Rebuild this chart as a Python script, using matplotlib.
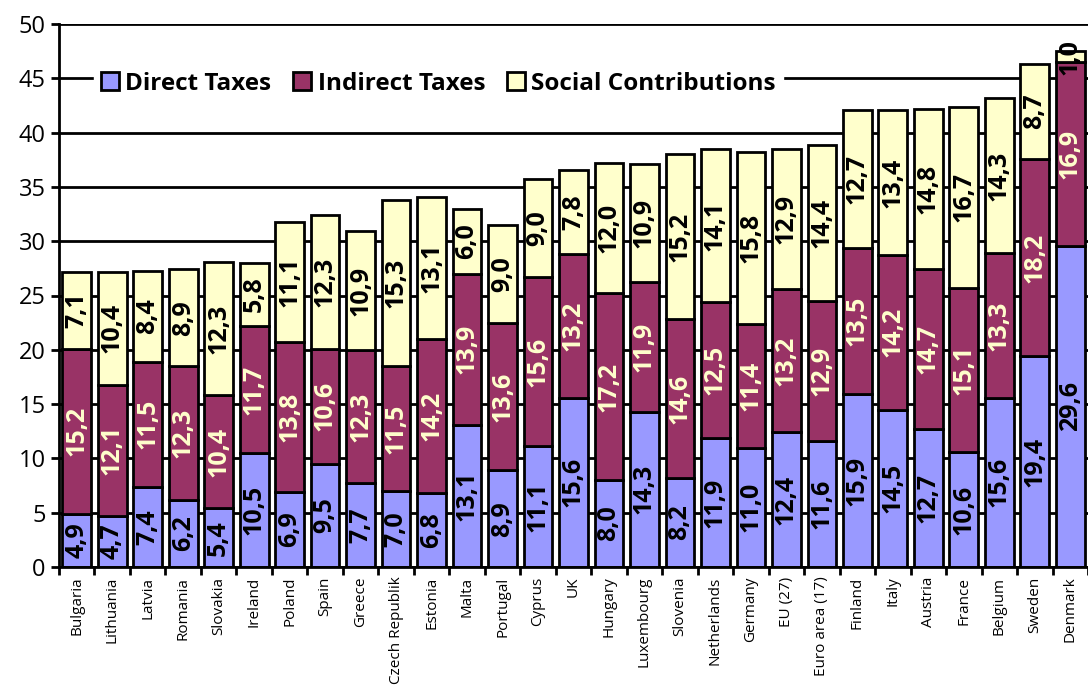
import numpy as np
import matplotlib
matplotlib.use("Agg")
import matplotlib.pyplot as plt

countries = ["Bulgaria", "Lithuania", "Latvia", "Romania", "Slovakia", "Ireland",
             "Poland", "Spain", "Greece", "Czech Republik", "Estonia", "Malta",
             "Portugal", "Cyprus", "UK", "Hungary", "Luxembourg", "Slovenia",
             "Netherlands", "Germany", "EU (27)", "Euro area (17)", "Finland",
             "Italy", "Austria", "France", "Belgium", "Sweden", "Denmark"]
direct = [4.9, 4.7, 7.4, 6.2, 5.4, 10.5, 6.9, 9.5, 7.7, 7.0, 6.8, 13.1, 8.9, 11.1,
          15.6, 8.0, 14.3, 8.2, 11.9, 11.0, 12.4, 11.6, 15.9, 14.5, 12.7, 10.6,
          15.6, 19.4, 29.6]
indirect = [15.2, 12.1, 11.5, 12.3, 10.4, 11.7, 13.8, 10.6, 12.3, 11.5, 14.2, 13.9,
            13.6, 15.6, 13.2, 17.2, 11.9, 14.6, 12.5, 11.4, 13.2, 12.9, 13.5, 14.2,
            14.7, 15.1, 13.3, 18.2, 16.9]
social = [7.1, 10.4, 8.4, 8.9, 12.3, 5.8, 11.1, 12.3, 10.9, 15.3, 13.1, 6.0, 9.0,
          9.0, 7.8, 12.0, 10.9, 15.2, 14.1, 15.8, 12.9, 14.4, 12.7, 13.4, 14.8,
          16.7, 14.3, 8.7, 1.0]
series_names = ["Direct Taxes", "Indirect Taxes", "Social Contributions"]

plt.rcParams['font.family'] = ['Open Sans', 'DejaVu Sans']

fig = plt.figure(figsize=(10.88, 6.9), dpi=100)
ax = fig.add_axes([59 / 1088, 1 - 567 / 690, 1 - 59 / 1088, (567 - 24) / 690])

x = np.arange(len(countries))
d = np.array(direct)
i = np.array(indirect)
s = np.array(social)
w = 0.81
kw = dict(width=w, edgecolor="black", linewidth=2, zorder=2)
ax.bar(x, d, color="#9999FF", label=series_names[0], **kw)
ax.bar(x, i, bottom=d, color="#993366", label=series_names[1], **kw)
ax.bar(x, s, bottom=d + i, color="#FFFFCC", label=series_names[2], **kw)

def fmt(v):
    return ("%.1f" % v).replace(".", ",")

lab = dict(rotation=90, ha="center", va="center", fontsize=18, fontweight="bold",
           zorder=4, clip_on=False)
for k in x:
    ax.text(k, d[k] / 2, fmt(d[k]), color="black", **lab)
    ax.text(k, d[k] + i[k] / 2, fmt(i[k]), color="#FFFFCC", **lab)
    ax.text(k, d[k] + i[k] + s[k] / 2, fmt(s[k]), color="black", **lab)

ax.set_ylim(0, 50)
ax.set_yticks(range(0, 51, 5))
ax.set_xlim(-0.5, -0.5 + (1088 - 59) / 35.78)
ax.yaxis.grid(True, color="black", linewidth=2, zorder=0)
ax.set_axisbelow(True)
ax.set_xticks(x)
ax.set_xticklabels(countries, rotation=90, fontsize=11)
ax.tick_params(axis="x", length=0, pad=7)
ax.set_xticks(np.arange(-0.5, len(countries), 1), minor=True)
ax.tick_params(axis="x", which="minor", length=6, width=2, direction="out")
ax.tick_params(axis="y", labelsize=17, length=6, width=2, direction="out")
for sp in ["top", "right"]:
    ax.spines[sp].set_visible(False)
ax.spines["left"].set_linewidth(2)
ax.spines["bottom"].set_linewidth(2)

leg = ax.legend(loc="center left", bbox_to_anchor=(0.022, 0.89), ncol=3,
                frameon=True, fancybox=False, framealpha=1, edgecolor="white",
                prop=dict(size=17.5, weight="bold"), handlelength=0.75,
                handleheight=0.75, handletextpad=0.25, columnspacing=0.9,
                borderpad=0.3)
leg.set_zorder(5)

fig.savefig("out.png", dpi=100)
